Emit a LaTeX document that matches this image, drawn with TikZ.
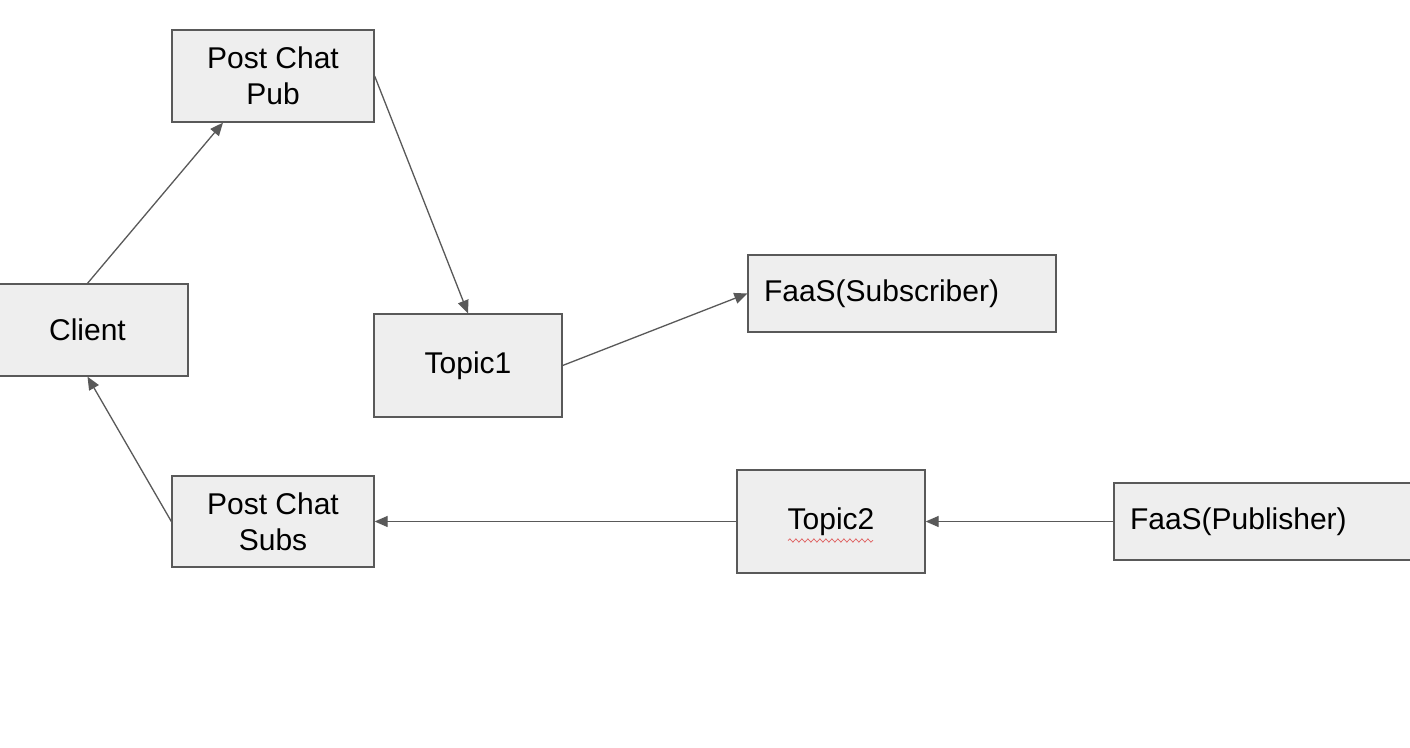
\documentclass[tikz,border=0pt]{standalone}
\usepackage{fontspec}
\setmainfont{Liberation Sans}
\usepackage{xcolor}
\usetikzlibrary{arrows.meta, positioning, decorations.pathmorphing}

\definecolor{boxfill}{HTML}{EEEEEE}
\definecolor{boxline}{HTML}{595959}
\definecolor{spellred}{HTML}{E06666}

\tikzset{
    box/.style={draw=boxline, fill=boxfill, line width=0.65pt, inner sep=0pt,
        font=\fontsize{15}{18}\selectfont, align=center},
    widebox/.style={box, text width=138pt, inner xsep=8pt, align=left,
        minimum height=38.5pt},
    link/.style={draw=boxline, line width=0.65pt,
        -{Triangle[length=6.5pt, width=5.5pt]}}
}

\begin{document}
\begin{tikzpicture}[x=0.5pt, y=-0.5pt]
    \clip (0,0) rectangle (1410,748);
    \fill[white] (0,0) rectangle (1410,748);

    % publish side
    \node[box, minimum width=101pt, minimum height=46pt] (pub) at (273,76) {Post Chat\\Pub};
    \node[box, minimum width=100.5pt, minimum height=46pt] (client) at (87.5,330) {Client};
    \node[box, minimum width=94pt, minimum height=51.5pt] (topic1) at (468,365.5) {Topic1};
    \node[widebox] (fsub) at (902,293.5) {FaaS(Subscriber)};

    % subscribe side
    \node[box, minimum width=101pt, minimum height=45.5pt] (subs) at (273,521.5) {Post Chat\\Subs};
    \node[box, minimum width=94pt, minimum height=51.5pt] (topic2) at (831,521.5) {Topic2};
    \node[widebox] (fpub) at (1268,521.5) {FaaS(Publisher)};

    % spell check mark
    \draw[spellred, line width=0.4pt, decorate,
        decoration={snake, amplitude=0.8pt, segment length=3pt}]
        ([xshift=-21.5pt, yshift=-9.5pt]topic2.center) -- ([xshift=21pt, yshift=-9.5pt]topic2.center);

    % connectors
    \draw[link] (client.north) -- (pub.223);
    \draw[link] (pub.east) -- (topic1.north);
    \draw[link] (topic1.east) -- (fsub.west);
    \draw[link] (fpub.west) -- (topic2.east);
    \draw[link] (topic2.west) -- (subs.east);
    \draw[link] (subs.west) -- (client.south);
\end{tikzpicture}
\end{document}
